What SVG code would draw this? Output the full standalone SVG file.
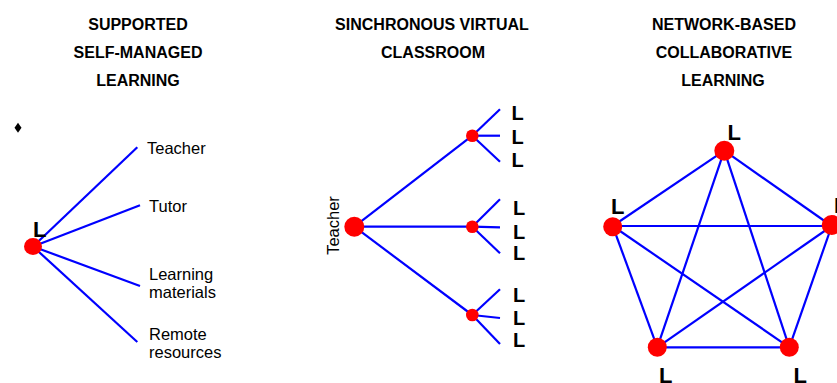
<svg xmlns="http://www.w3.org/2000/svg" width="837" height="383" viewBox="0 0 837 383">
<style>
.t{font-family:"Liberation Sans",Arial,sans-serif;font-weight:bold;font-size:16px;fill:#000;text-anchor:middle}
.lb{font-family:"Liberation Sans",Arial,sans-serif;font-size:16.5px;fill:#000}
.L{font-family:"Liberation Sans",Arial,sans-serif;font-weight:bold;font-size:22px;fill:#000}
.Lm{font-family:"Liberation Sans",Arial,sans-serif;font-weight:bold;font-size:20px;fill:#000}
.e line{stroke:#0000ff;stroke-width:2.2;fill:none}
.n{fill:#ff0000}
</style>
<rect width="837" height="383" fill="#fff"/>
<g id="titles">
<text class="t" x="138" y="30">SUPPORTED</text>
<text class="t" x="138" y="58">SELF-MANAGED</text>
<text class="t" x="138" y="86">LEARNING</text>
<text class="t" x="432" y="30">SINCHRONOUS VIRTUAL</text>
<text class="t" x="433" y="58">CLASSROOM</text>
<text class="t" x="724" y="30">NETWORK-BASED</text>
<text class="t" x="724" y="58">COLLABORATIVE</text>
<text class="t" x="723" y="86">LEARNING</text>
</g>
<polygon id="bullet" points="18,122.7 21.5,127.7 18,132.7 14.5,127.7" fill="#000"/>
<g id="connectors" class="e">
<line x1="33" y1="246.5" x2="137.3" y2="147.3"/>
<line x1="33" y1="246.5" x2="140" y2="205.3"/>
<line x1="33" y1="246.5" x2="140" y2="286"/>
<line x1="33" y1="246.5" x2="137.3" y2="342"/>
<line x1="354.3" y1="226.7" x2="472.3" y2="135.7"/>
<line x1="354.3" y1="226.7" x2="472.3" y2="226.7"/>
<line x1="354.3" y1="226.7" x2="472.3" y2="315"/>
<line x1="472.3" y1="135.7" x2="500" y2="109.3"/>
<line x1="472.3" y1="135.7" x2="500" y2="135.7"/>
<line x1="472.3" y1="135.7" x2="500" y2="161.7"/>
<line x1="472.3" y1="226.7" x2="500" y2="199.3"/>
<line x1="472.3" y1="226.7" x2="500" y2="227.3"/>
<line x1="472.3" y1="226.7" x2="500" y2="253.3"/>
<line x1="472.3" y1="315" x2="500" y2="289.3"/>
<line x1="472.3" y1="315" x2="500" y2="318"/>
<line x1="472.3" y1="315" x2="500" y2="344"/>
<line x1="724.3" y1="150.7" x2="612.7" y2="226"/>
<line x1="724.3" y1="150.7" x2="831.7" y2="226"/>
<line x1="724.3" y1="150.7" x2="657.3" y2="347.3"/>
<line x1="724.3" y1="150.7" x2="789.3" y2="347.3"/>
<line x1="612.7" y1="226" x2="831.7" y2="226"/>
<line x1="612.7" y1="226" x2="657.3" y2="347.3"/>
<line x1="612.7" y1="226" x2="789.3" y2="347.3"/>
<line x1="831.7" y1="226" x2="657.3" y2="347.3"/>
<line x1="831.7" y1="226" x2="789.3" y2="347.3"/>
<line x1="657.3" y1="347.3" x2="789.3" y2="347.3"/>
</g>
<g id="node-learner-left">
<ellipse class="n" cx="33" cy="246.5" rx="9" ry="8.5"/>
<text class="L" x="33" y="237">L</text>
</g>
<g id="labels-left">
<text class="lb" x="147" y="154">Teacher</text>
<text class="lb" x="149" y="212">Tutor</text>
<text class="lb" x="149" y="280">Learning</text>
<text class="lb" x="149" y="298">materials</text>
<text class="lb" x="149" y="340">Remote</text>
<text class="lb" x="149" y="358">resources</text>
</g>
<g id="node-teacher">
<circle class="n" cx="354.3" cy="226.7" r="10"/>
<text class="lb" transform="translate(339,225.5) rotate(-90)" text-anchor="middle">Teacher</text>
</g>
<g id="node-hub1"><circle class="n" cx="472.3" cy="135.7" r="6.3"/>
<text class="Lm" x="511.5" y="120">L</text><text class="Lm" x="511.5" y="144">L</text><text class="Lm" x="511.5" y="167">L</text></g>
<g id="node-hub2"><circle class="n" cx="472.3" cy="226.7" r="6.3"/>
<text class="Lm" x="513" y="215">L</text><text class="Lm" x="513" y="238.5">L</text><text class="Lm" x="513" y="260">L</text></g>
<g id="node-hub3"><circle class="n" cx="472.3" cy="315" r="6.3"/>
<text class="Lm" x="513" y="302">L</text><text class="Lm" x="513" y="325">L</text><text class="Lm" x="513" y="346.5">L</text></g>
<g id="node-p-top"><circle class="n" cx="724.3" cy="150.7" r="10"/><text class="L" x="727.5" y="140">L</text></g>
<g id="node-p-left"><circle class="n" cx="612.7" cy="226.7" r="9.5"/><text class="L" x="611" y="214">L</text></g>
<g id="node-p-right"><circle class="n" cx="831.7" cy="225" r="10"/><text class="L" x="834" y="213">L</text></g>
<g id="node-p-bl"><circle class="n" cx="657.3" cy="347.3" r="9.5"/><text class="L" x="659" y="383">L</text></g>
<g id="node-p-br"><circle class="n" cx="789.3" cy="347.3" r="9.5"/><text class="L" x="793.5" y="383">L</text></g>
</svg>
